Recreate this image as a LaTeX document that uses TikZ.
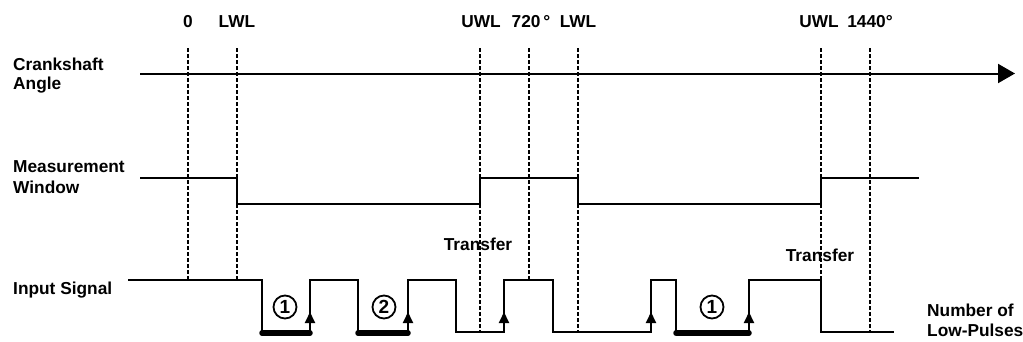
\documentclass[tikz,border=0pt]{standalone}
\usepackage{fontspec}
\setmainfont{Liberation Sans}
\usetikzlibrary{arrows.meta}
\begin{document}
\begin{tikzpicture}[x=1pt,y=-1pt,
  lbl/.style={font=\bfseries\fontsize{17.3}{20}\selectfont, inner sep=0pt},
  guide/.style={line width=1.7pt, dash pattern=on 4pt off 2pt},
  axisline/.style={line width=2pt},
  win/.style={line width=1.5pt},
  sig/.style={line width=2pt},
  lowbar/.style={line width=5.5pt, line cap=round},
  rise/.style={line width=2pt, -{Triangle[width=10pt,length=11pt]}},
  num/.style={circle, draw, line width=1.8pt, minimum size=23pt, inner sep=0pt,
    font=\bfseries\fontsize{19}{19}\selectfont}]
\useasboundingbox (0,0) rectangle (1023,341);

% top labels
\node[lbl, anchor=base] (t0)   at (188,27) {0};
\node[lbl, anchor=base] (tl1)  at (237,27) {LWL};
\node[lbl, anchor=base] (tu1)  at (481,27) {UWL};
\node[lbl, anchor=base] (t720) at (531,27) {720\,°};
\node[lbl, anchor=base] (tl2)  at (578,27) {LWL};
\node[lbl, anchor=base] (tu2)  at (819,27) {UWL};
\node[lbl, anchor=base] (t1440) at (870,27) {1440°};

% left labels
\node[lbl, anchor=base west] (ca1) at (13,70) {Crankshaft};
\node[lbl, anchor=base west] (ca2) at (13,89) {Angle};
\node[lbl, anchor=base west] (mw1) at (13,172) {Measurement};
\node[lbl, anchor=base west] (mw2) at (13,193) {Window};
\node[lbl, anchor=base west] (is)  at (13,294) {Input Signal};
\node[lbl, anchor=base west] (nl1) at (927,316) {Number of};
\node[lbl, anchor=base west] (nl2) at (927,336) {Low-Pulses};

% guide lines
\draw[guide] (188,48) -- (188,280);
\draw[guide] (237,48) -- (237,280);
\draw[guide] (480,48) -- (480,333);
\draw[guide] (529,48) -- (529,280);
\draw[guide] (578,48) -- (578,333);
\draw[guide] (821,48) -- (821,333);
\draw[guide] (870,48) -- (870,333);

% transfer labels
\node[lbl, anchor=base] (tr1) at (478,250) {Transfer};
\node[lbl, anchor=base] (tr2) at (820,261) {Transfer};

% crankshaft axis
\draw[axisline, -{Triangle[width=19pt,length=17pt]}] (140,73.5) -- (1015,73.5);

% measurement window
\draw[win] (140,178) -- (237,178) -- (237,204) -- (480,204) -- (480,178)
  -- (578,178) -- (578,204) -- (821,204) -- (821,178) -- (919,178);

% input signal
\draw[sig] (128,280) -- (262,280) -- (262,332) -- (310,332) -- (310,280)
  -- (358,280) -- (358,332) -- (408,332) -- (408,280) -- (456,280)
  -- (456,332) -- (504,332) -- (504,280) -- (553,280) -- (553,332)
  -- (651,332) -- (651,280) -- (676,280) -- (676,332) -- (749,332)
  -- (749,280) -- (821,280) -- (821,332) -- (894,332);

% low pulse bars
\draw[lowbar] (262,333) -- (310,333);
\draw[lowbar] (358,333) -- (408,333);
\draw[lowbar] (676,333) -- (749,333);

% rising edge arrows
\foreach \x in {310,408,504,651,749}
  \draw[rise] (\x,330) -- (\x,312);

% counters
\node[num] (c1) at (285,307) {1};
\node[num] (c2) at (384,307) {2};
\node[num] (c3) at (712,307) {1};
\end{tikzpicture}
\end{document}
